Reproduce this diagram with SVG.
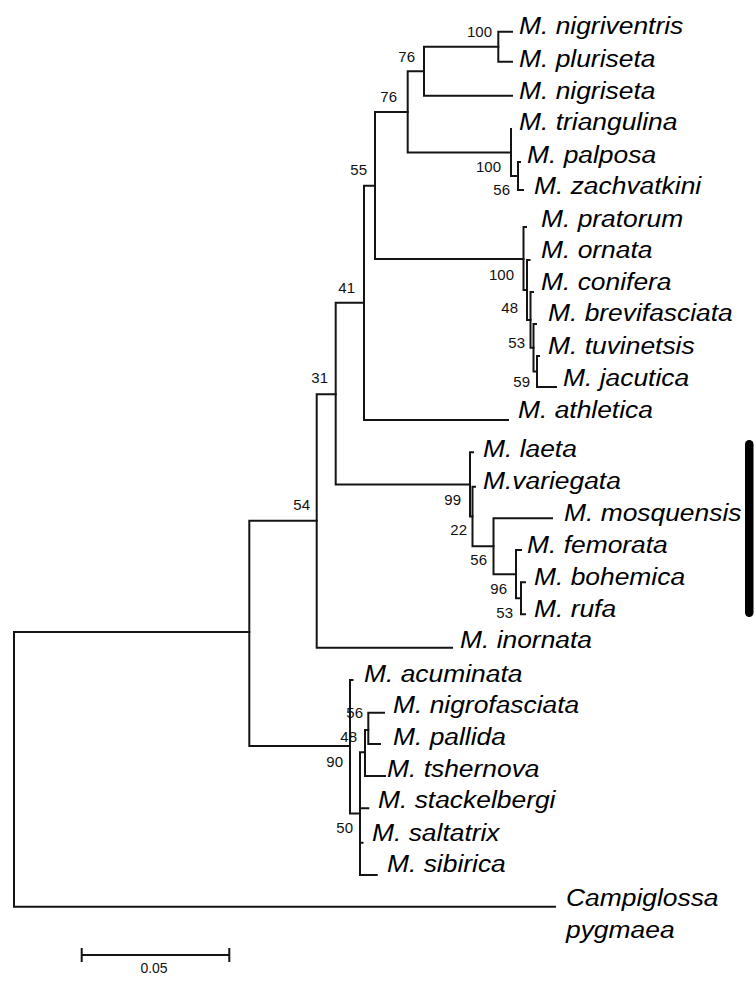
<svg xmlns="http://www.w3.org/2000/svg" width="756" height="988" viewBox="0 0 756 988">
<style>
.br{fill:none;stroke:#141414;stroke-width:2;stroke-linecap:square}
.lf{font-family:"Liberation Sans",Arial,sans-serif;font-style:italic;font-size:24px;fill:#000}
.bs{font-family:"Liberation Sans",Arial,sans-serif;font-size:15px;fill:#111;text-anchor:end}
.sc{font-family:"Liberation Sans",Arial,sans-serif;font-size:14px;fill:#111;text-anchor:middle}
</style>
<rect width="756" height="988" fill="#fff"/>
<g id="connectors">
<path class="br" d="M14,632V906.7M14,632H249.3M14,906.7H555"/>
<path class="br" d="M249.3,520.7V746M249.3,520.7H316.7M249.3,746H350"/>
<path class="br" d="M316.7,394.3V647.7M316.7,394.3H335.7M316.7,647.7H452"/>
<path class="br" d="M335.7,302.8V484.4M335.7,302.8H364M335.7,484.4H470"/>
<path class="br" d="M364,185.7V420M364,185.7H375M364,420H508"/>
<path class="br" d="M375,112V259M375,112H407.7M375,259H523.5"/>
<path class="br" d="M407.7,71.2V152.5M407.7,71.2H424M407.7,152.5H511"/>
<path class="br" d="M424,46.7V95.7M424,46.7H498.3M424,95.7H512"/>
<path class="br" d="M498.3,31.7V61.7M498.3,31.7H512M498.3,61.7H512"/>
<path class="br" d="M511,129V176M511,176H518"/>
<path class="br" d="M518,162V190M518,162H520M518,190H523"/>
<path class="br" d="M523.5,227V290M523.5,227H526M523.5,290H527"/>
<path class="br" d="M527,260V320M527,260H529.5M527,320H530.5"/>
<path class="br" d="M530.5,292V347.7M530.5,292H533M530.5,347.7H533.5"/>
<path class="br" d="M533.5,324V371.5M533.5,324H536M533.5,371.5H537"/>
<path class="br" d="M537,356V387M537,356H539M537,387H556"/>
<path class="br" d="M470,452.3V516.5M470,452.3H473M470,516.5H472.5"/>
<path class="br" d="M472.5,486.7V546.2M472.5,486.7H475M472.5,546.2H493.5"/>
<path class="br" d="M493.5,518.3V574.2M493.5,518.3H552M493.5,574.2H516"/>
<path class="br" d="M516,550V598.3M516,550H521M516,598.3H521"/>
<path class="br" d="M521,582.3V614.3M521,582.3H525M521,614.3H525"/>
<path class="br" d="M350,680V813.5M350,680H352.5M350,813.5H360"/>
<path class="br" d="M360,752.3V875M360,752.3H365M360,808.3H368.3M360,842.7H362.5M360,875H376.7"/>
<path class="br" d="M365,730V776M365,730H368.3M365,776H385"/>
<path class="br" d="M368.3,712.7V744M368.3,712.7H384M368.3,744H380"/>
</g>
<g id="leaves">
<g id="leaf-nigriventris"><text class="lf" transform="translate(519,34) scale(1.1,1)">M. nigriventris</text></g>
<g id="leaf-pluriseta"><text class="lf" transform="translate(519,67) scale(1.1,1)">M. pluriseta</text></g>
<g id="leaf-nigriseta"><text class="lf" transform="translate(519,99) scale(1.1,1)">M. nigriseta</text></g>
<g id="leaf-triangulina"><text class="lf" transform="translate(519,130) scale(1.1,1)">M. triangulina</text></g>
<g id="leaf-palposa"><text class="lf" transform="translate(527,162.5) scale(1.1,1)">M. palposa</text></g>
<g id="leaf-zachvatkini"><text class="lf" transform="translate(534,193.5) scale(1.1,1)">M. zachvatkini</text></g>
<g id="leaf-pratorum"><text class="lf" transform="translate(541,227) scale(1.1,1)">M. pratorum</text></g>
<g id="leaf-ornata"><text class="lf" transform="translate(541,258) scale(1.1,1)">M. ornata</text></g>
<g id="leaf-conifera"><text class="lf" transform="translate(541,290) scale(1.1,1)">M. conifera</text></g>
<g id="leaf-brevifasciata"><text class="lf" transform="translate(548,321) scale(1.1,1)">M. brevifasciata</text></g>
<g id="leaf-tuvinetsis"><text class="lf" transform="translate(548,354) scale(1.1,1)">M. tuvinetsis</text></g>
<g id="leaf-jacutica"><text class="lf" transform="translate(563,386) scale(1.1,1)">M. jacutica</text></g>
<g id="leaf-athletica"><text class="lf" transform="translate(518,418) scale(1.1,1)">M. athletica</text></g>
<g id="leaf-laeta"><text class="lf" transform="translate(483,457) scale(1.1,1)">M. laeta</text></g>
<g id="leaf-variegata"><text class="lf" transform="translate(483,489) scale(1.1,1)">M.variegata</text></g>
<g id="leaf-mosquensis"><text class="lf" transform="translate(564,521) scale(1.1,1)">M. mosquensis</text></g>
<g id="leaf-femorata"><text class="lf" transform="translate(527,553) scale(1.1,1)">M. femorata</text></g>
<g id="leaf-bohemica"><text class="lf" transform="translate(534,585) scale(1.1,1)">M. bohemica</text></g>
<g id="leaf-rufa"><text class="lf" transform="translate(534,617) scale(1.1,1)">M. rufa</text></g>
<g id="leaf-inornata"><text class="lf" transform="translate(460,648) scale(1.1,1)">M. inornata</text></g>
<g id="leaf-acuminata"><text class="lf" transform="translate(364,682) scale(1.1,1)">M. acuminata</text></g>
<g id="leaf-nigrofasciata"><text class="lf" transform="translate(393,713) scale(1.1,1)">M. nigrofasciata</text></g>
<g id="leaf-pallida"><text class="lf" transform="translate(393,745) scale(1.1,1)">M. pallida</text></g>
<g id="leaf-tshernova"><text class="lf" transform="translate(387,777) scale(1.1,1)">M. tshernova</text></g>
<g id="leaf-stackelbergi"><text class="lf" transform="translate(378,808) scale(1.1,1)">M. stackelbergi</text></g>
<g id="leaf-saltatrix"><text class="lf" transform="translate(372,841) scale(1.1,1)">M. saltatrix</text></g>
<g id="leaf-sibirica"><text class="lf" transform="translate(387,872) scale(1.1,1)">M. sibirica</text></g>
<g id="leaf-campiglossa"><text class="lf" transform="translate(566,906) scale(1.1,1)">Campiglossa</text><text class="lf" transform="translate(566,938) scale(1.1,1)">pygmaea</text></g>
</g>
<g id="bootstrap">
<g id="bs-1"><text class="bs" x="492" y="37">100</text></g>
<g id="bs-2"><text class="bs" x="415" y="62">76</text></g>
<g id="bs-3"><text class="bs" x="397" y="102">76</text></g>
<g id="bs-4"><text class="bs" x="367" y="175">55</text></g>
<g id="bs-5"><text class="bs" x="501" y="172">100</text></g>
<g id="bs-6"><text class="bs" x="510" y="195">56</text></g>
<g id="bs-7"><text class="bs" x="355" y="293">41</text></g>
<g id="bs-8"><text class="bs" x="514" y="280">100</text></g>
<g id="bs-9"><text class="bs" x="518" y="313">48</text></g>
<g id="bs-10"><text class="bs" x="525" y="348">53</text></g>
<g id="bs-11"><text class="bs" x="530" y="387">59</text></g>
<g id="bs-12"><text class="bs" x="328" y="383">31</text></g>
<g id="bs-13"><text class="bs" x="310" y="510">54</text></g>
<g id="bs-14"><text class="bs" x="461" y="505">99</text></g>
<g id="bs-15"><text class="bs" x="467" y="535">22</text></g>
<g id="bs-16"><text class="bs" x="487" y="565">56</text></g>
<g id="bs-17"><text class="bs" x="507" y="594">96</text></g>
<g id="bs-18"><text class="bs" x="513" y="618">53</text></g>
<g id="bs-19"><text class="bs" x="363" y="718">56</text></g>
<g id="bs-20"><text class="bs" x="357" y="742">48</text></g>
<g id="bs-21"><text class="bs" x="343" y="767">90</text></g>
<g id="bs-22"><text class="bs" x="353" y="833">50</text></g>
</g>
<g id="clade-bar"><rect x="745" y="440" width="8.5" height="177" rx="4.2" fill="#000"/></g>
<g id="scale-bar">
<path class="br" d="M81.7,955H229.3M81.7,949V961M229.3,949V961"/>
<text class="sc" x="154" y="973">0.05</text>
</g>
</svg>
